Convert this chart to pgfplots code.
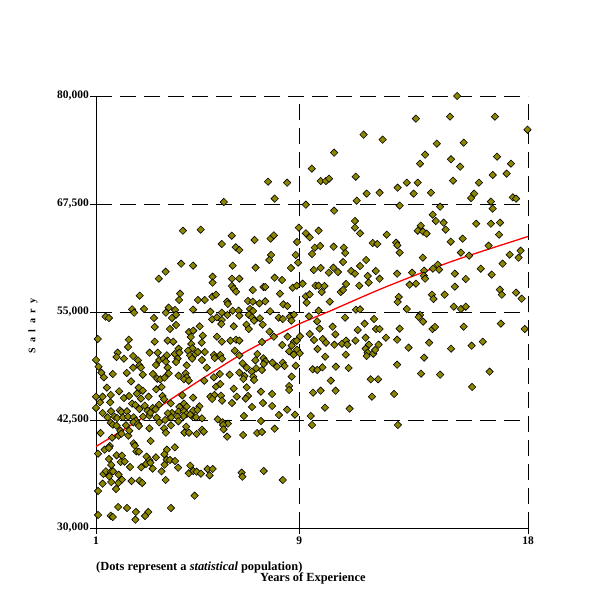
\documentclass[border=0pt]{standalone}
\usepackage{pgfplots}
\usepackage{pgfplotstable}
\pgfplotsset{compat=1.18}
\usepackage{fontspec}
\setmainfont{Liberation Serif}
\pgfplotstableread{
x y
6.03 67730
4.42 64410
5.12 64530
6.34 63830
7.77 70085
8.52 69970
8.03 68120
9.26 67420
9.49 71590
9.84 70160
10.05 70160
10.17 70430
10.37 73440
11.53 75525
12.28 74946
11.22 70660
11.65 68700
12.16 68810
11.26 67886
10.37 66730
8.98 64760
9.26 64105
9.41 63640
9.76 64410
11.19 65530
11.19 64760
11.39 64105
7.87 63490
8.00 63870
15.21 80000
13.59 77380
14.93 77610
16.70 77610
17.98 76100
14.41 74483
15.47 74600
13.95 73210
13.75 72170
14.97 72670
15.33 71820
16.78 72980
17.33 72170
16.61 70860
17.16 71010
12.87 69390
13.23 69970
13.66 69970
15.05 70200
16.07 69970
13.50 68700
14.18 68810
15.76 68190
15.88 68700
17.40 68270
17.53 68120
16.54 67770
12.95 67310
14.54 67190
16.61 66960
14.25 66265
14.37 65530
14.68 65340
13.78 64990
13.66 64410
13.87 64300
14.01 64070
14.76 64530
15.96 65220
16.54 65220
16.90 65340
12.44 63950
15.43 63490
16.86 63950
5.95 62870
6.50 62484
6.64 62176
4.35 60594
4.82 60362
6.38 60362
3.74 59668
3.47 58858
5.59 59089
5.59 58395
6.35 58858
6.64 58858
6.35 58009
6.42 57700
6.51 57353
2.72 56890
4.31 57122
4.27 56389
5.01 56389
5.28 56389
5.58 56775
5.72 57006
6.16 56196
6.19 55926
2.42 55308
2.50 54922
2.89 55347
3.86 55501
3.75 54922
4.11 55231
4.15 54691
3.99 54305
4.82 55270
5.50 55038
5.95 54922
6.38 55154
6.61 55154
1.38 54460
1.51 54305
3.28 54305
3.31 53264
3.91 53032
4.15 53495
5.57 54151
5.76 54382
5.95 54074
5.93 53611
6.17 54652
6.42 53341
6.64 54575
4.66 52685
4.83 52839
4.73 52106
5.08 53341
5.20 52260
5.76 52145
5.95 51566
6.29 51682
6.51 51797
6.64 51682
1.07 51875
2.29 51797
2.26 50949
3.31 51566
3.82 51682
4.04 51566
4.75 51296
4.80 50795
5.16 51450
6.46 50524
1.85 50293
1.81 49791
2.10 49598
2.46 49907
3.11 50293
3.43 50293
3.49 49444
3.66 49598
3.79 49984
3.75 49251
4.10 50139
4.25 50756
4.28 50293
4.21 49598
4.15 49213
4.62 50524
4.70 49984
4.78 49598
4.91 50139
5.01 50370
5.28 50370
5.17 49444
5.64 50023
5.67 49676
5.89 50023
5.96 49598
6.64 49984
2.65 49406
2.71 48827
2.77 48557
2.46 48557
3.36 48866
3.82 48557
4.57 48827
5.36 48557
1.10 48673
1.21 47978
1.31 47438
1.66 47824
2.21 47940
2.84 47747
3.24 47824
3.41 47284
3.53 47207
3.70 47400
3.86 47901
4.25 47631
4.53 47901
4.57 47438
4.46 47207
4.65 47052
5.26 47052
5.64 47438
5.87 47824
6.26 47747
6.64 47978
2.38 46975
1.00 49444
7.24 63333
8.91 63102
9.61 62446
9.82 62639
10.35 62561
10.75 62446
11.89 62986
12.07 62870
7.89 61597
7.82 61018
8.86 61597
9.50 61713
10.81 61828
11.63 61018
7.28 60131
8.95 60710
8.67 60092
9.57 59861
9.84 60092
10.34 60131
10.16 59552
10.52 59629
10.72 60787
11.04 59745
11.19 59436
11.39 60324
12.01 59745
8.03 58973
8.32 58703
8.74 57816
8.90 58048
9.13 58279
9.64 58048
9.76 58048
9.88 57314
9.99 58009
10.63 57314
10.72 57546
10.84 58241
11.36 58048
11.69 59166
11.73 58395
12.16 58858
7.17 57546
7.59 57893
7.66 57893
8.24 57122
9.26 56813
9.41 57044
9.29 56080
6.98 56273
7.17 56196
7.43 56003
7.66 56234
8.37 55887
8.53 55694
10.20 56196
7.06 55347
7.18 55115
7.85 55077
7.01 54691
7.14 54382
7.45 54267
8.19 54344
8.35 54190
8.63 54460
8.69 53997
8.79 54691
9.38 54498
9.76 55154
9.70 53920
11.23 55270
11.39 55308
7.22 53997
6.92 53534
7.01 53032
7.56 53534
7.83 52724
9.80 53071
10.31 53302
10.80 54344
11.30 52917
11.57 53650
11.94 54190
12.02 53032
12.16 53032
8.00 52145
7.53 51527
8.33 51180
8.54 52145
8.79 51566
8.90 51682
9.03 52183
9.41 52454
9.58 51759
9.92 51875
10.05 51450
10.42 52415
10.38 51219
10.68 51335
10.84 51682
10.89 51219
11.21 51682
11.61 52029
11.74 51219
12.12 51219
8.70 51103
8.91 50640
8.60 50447
8.78 50061
9.02 50216
9.72 50717
10.02 49830
10.83 50061
11.61 50756
11.69 50293
11.65 49907
11.91 50177
11.98 50602
7.35 50139
7.27 49406
7.59 49637
7.66 49290
7.94 49135
8.12 48673
8.35 49135
8.42 48750
8.86 48789
6.93 48557
7.30 48480
7.53 48287
7.60 48981
6.84 47592
6.80 47245
7.13 48094
7.19 47515
7.22 47130
9.53 48364
9.71 48287
9.91 48596
10.44 48673
10.94 48518
8.70 47515
10.24 47052
11.81 47207
12.10 47207
6.77 49058
12.81 63024
12.86 62716
12.95 61867
14.96 63140
16.45 62677
17.71 62098
17.28 61636
17.63 61288
13.86 61288
17.00 60594
15.36 61867
15.68 61520
14.45 60478
14.50 59899
14.26 60015
13.91 59784
13.90 59205
13.95 58858
13.44 59552
12.85 59436
13.34 58163
13.59 58279
15.12 59436
15.55 58819
16.14 60015
16.57 59321
15.12 57932
16.89 57585
16.97 57006
17.53 57237
17.75 56543
14.22 57006
14.28 56505
14.72 57006
12.91 56736
12.87 56157
13.23 55347
15.08 55617
15.36 55347
15.55 55617
13.75 54652
13.70 54421
13.87 53881
14.24 53032
14.34 53264
15.47 53302
16.93 53650
17.87 53032
12.95 53071
12.41 52029
12.85 51797
13.30 50872
14.11 51450
14.97 50756
15.78 51103
16.22 51566
13.91 49714
12.85 48904
13.79 47862
14.54 47747
16.49 48094
1.43 46243
1.91 45818
2.68 46243
2.84 45895
3.37 46050
3.58 46320
5.72 46358
5.89 46667
6.42 46127
1.00 45201
1.26 45201
1.58 45394
2.10 45047
2.30 45278
2.61 45548
2.77 44970
3.07 45201
3.62 45278
3.68 44892
4.40 45355
4.82 45085
5.50 45201
5.66 45394
5.92 45317
6.54 45201
1.16 44545
1.56 44545
2.42 44391
2.55 44236
2.92 44159
3.48 44275
3.23 43889
3.94 44429
4.46 44391
4.28 44005
4.57 44043
5.07 44082
5.57 44931
5.96 44738
6.35 44468
1.00 43889
1.59 43503
1.94 43619
2.00 43426
2.22 43503
2.71 43773
3.03 43581
3.34 43735
3.99 43310
4.25 43465
4.46 43503
4.57 43195
4.83 43581
4.99 43658
4.44 42925
4.78 42963
1.26 43310
1.45 42809
1.73 42886
1.83 42732
2.06 42809
2.26 42886
2.48 42809
2.57 42423
2.85 42886
3.10 43002
3.14 43349
3.39 42770
3.49 42230
3.72 42500
3.83 43272
3.96 42809
4.21 42886
4.24 42346
4.71 43118
4.94 42809
5.17 42693
5.79 42577
5.98 42230
6.19 42076
1.58 42192
1.66 41960
1.81 41844
2.18 41883
2.47 42230
2.65 42037
2.69 41806
3.10 41536
3.68 41536
3.95 41883
3.75 41034
4.48 41034
4.55 41729
4.66 41034
4.96 40880
5.17 41381
5.24 41150
6.00 41922
6.02 41420
6.16 40571
1.18 40996
1.89 40687
1.96 41266
2.27 40687
2.31 41266
1.63 40456
2.00 40919
3.15 40070
1.34 39067
1.54 39491
1.51 39260
1.08 38604
2.48 39800
2.53 39530
2.59 38874
2.69 38835
3.79 39067
4.10 39337
1.81 38411
2.02 38372
1.97 37639
2.13 37678
1.51 37987
2.99 38257
3.10 37832
2.97 37408
3.14 37562
3.36 38179
3.69 38526
3.78 37909
3.91 37871
4.11 37755
3.70 37331
2.34 37060
1.60 37292
2.78 37022
3.23 36867
3.58 36559
4.23 36983
4.71 37215
4.65 36328
4.83 36597
4.96 36520
5.13 36289
5.39 36829
5.59 36829
5.47 36096
1.29 36250
1.39 36559
1.59 36520
1.67 36559
1.52 35980
1.89 36173
1.96 35479
2.02 35595
1.88 35209
1.26 35131
1.60 35324
2.40 35440
2.71 35479
2.82 35209
3.74 35556
1.79 34514
1.08 34282
4.88 33743
1.87 32431
2.22 32315
2.57 31852
2.55 30965
3.06 31852
2.93 31389
3.95 32315
1.08 31505
1.58 31428
1.66 31274
6.93 46281
6.98 45278
6.89 44970
7.49 45780
7.93 45510
8.60 46435
8.60 45973
9.54 45664
9.84 45895
10.43 45895
11.86 45201
7.14 44005
7.57 44468
7.93 44120
8.52 43696
8.20 43079
8.83 43118
9.45 42963
10.01 43928
10.98 43812
6.82 42963
7.49 42384
9.50 41922
8.03 41497
7.34 40996
7.53 41111
6.79 40764
6.73 36405
6.76 35942
7.60 36597
8.35 35556
12.73 45510
15.80 46320
12.88 41922
}\dots
\pgfplotstableread{
x y
1.00 39432
2.97 42997
4.86 46667
6.67 50023
7.85 51910
8.99 53611
10.21 55116
12.33 57813
14.97 60822
17.57 63333
18.00 63738
}\fit
\begin{document}
\begin{tikzpicture}[x=1bp,y=1bp]
\path[use as bounding box, fill=white] (0,0) rectangle (600,600);
\begin{axis}[
  at={(96bp,72bp)}, anchor=south west,
  width=432bp, height=432bp, scale only axis,
  xmin=1, xmax=18, ymin=30000, ymax=80000,
  axis x line*=bottom, axis y line*=left,
  axis line style={black, line width=0.9bp, -},
  xtick={1,9,18}, xticklabels={1,9,18},
  ytick={30000,42500,55000,67500,80000},
  yticklabels={{30,000},{42,500},{55,000},{67,500},{80,000}},
  scaled y ticks=false,
  grid=major,
  major grid style={black, line width=0.9bp, dash pattern=on 16bp off 8bp},
  tick align=outside, major tick length=6bp,
  tick style={black, line width=0.9bp},
  ticklabel style={font=\bfseries\fontsize{11.5bp}{13bp}\selectfont},
  yticklabel style={inner sep=1bp},
  xticklabel style={inner sep=2.5bp},
  clip=false,
]
\addplot[only marks, mark=square*, mark size=2.6bp,
  mark options={rotate=45, draw=black, fill=olive, line width=0.6bp}] table[x=x,y=y] {\dots};
\addplot[red, line width=1.3bp, smooth, no marks] table[x=x,y=y] {\fit};
\end{axis}
\node[rotate=90, font=\bfseries\fontsize{10bp}{12bp}\selectfont] at (33,274)
  {S\hspace{5.5bp}a\hspace{5.5bp}l\hspace{5.5bp}a\hspace{5.5bp}r\hspace{5.5bp}y};
\node[anchor=base west, inner sep=0pt, font=\bfseries\fontsize{12.4bp}{14bp}\selectfont] at (96,29)
  {(Dots represent a \textit{statistical} population)};
\node[anchor=base west, inner sep=0pt, font=\bfseries\fontsize{12.4bp}{14bp}\selectfont] at (260,18)
  {Years of Experience};
\end{tikzpicture}
\end{document}
